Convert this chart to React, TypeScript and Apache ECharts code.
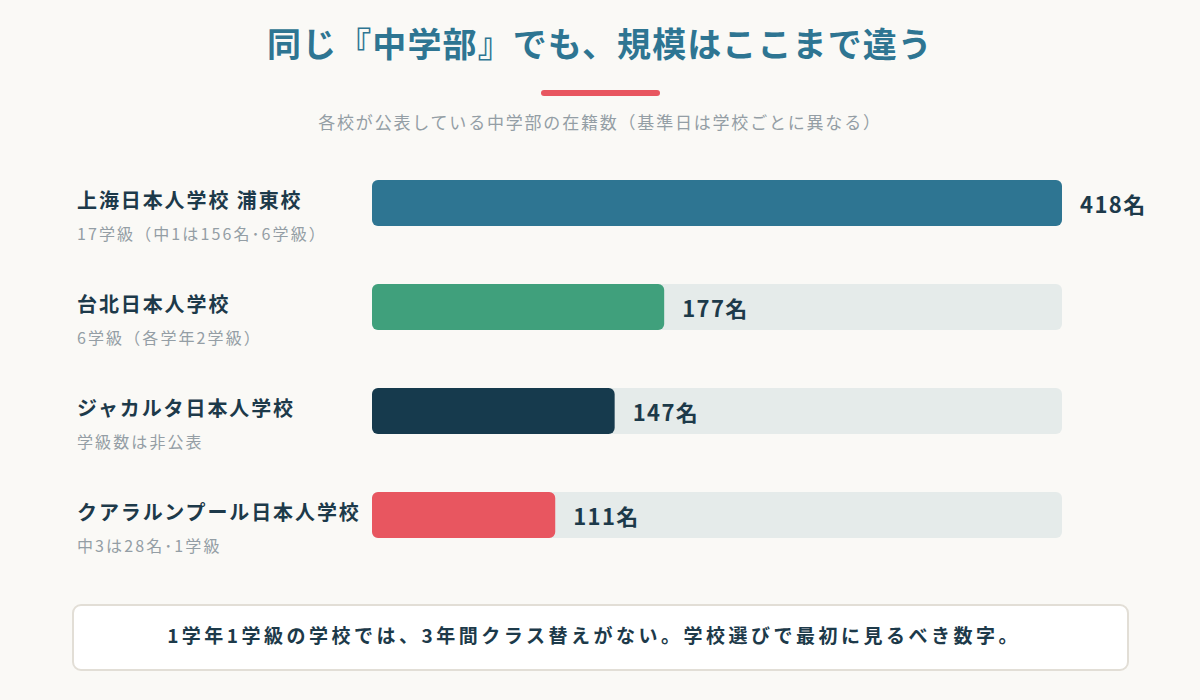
import React, { useEffect, useRef } from "react";
import * as echarts from "echarts";

const schools = ["上海日本人学校 浦東校", "台北日本人学校", "ジャカルタ日本人学校", "クアラルンプール日本人学校"];
const notes = ["17学級（中1は156名･6学級）", "6学級（各学年2学級）", "学級数は非公表", "中3は28名･1学級"];
const students = [418, 177, 147, 111];
const barColors = ["#2e7592", "#40a07c", "#163a4d", "#e85660"];

const TITLE = "同じ『中学部』でも、規模はここまで違う";
const SUBTITLE = "各校が公表している中学部の在籍数（基準日は学校ごとに異なる）";
const FOOTNOTE = "1学年1学級の学校では、3年間クラス替えがない。学校選びで最初に見るべき数字。";

const FONT = "'Noto Sans CJK JP', 'Noto Sans', sans-serif";

// letter spacing (px) by font size, applied to the rendered SVG texts
const SPACING: Record<number, number> = { 34: 1.1, 20: 1.9, 16: 2.1, 22: 1.4, 19: 3.5, 17: 1.8 };

export default function App() {
  const ref = useRef<HTMLDivElement>(null);
  useEffect(() => {
    if (!ref.current) return;
    const el = ref.current;
    const chart = echarts.init(el, null, { renderer: "svg" });
    const applySpacing = () => {
      el.querySelectorAll("text").forEach((t) => {
        const fs = Math.round(parseFloat(getComputedStyle(t).fontSize));
        const s = SPACING[fs];
        if (s) (t as SVGTextElement).style.letterSpacing = s + "px";
      });
    };
    chart.on("finished", applySpacing);
    chart.setOption({
      animation: false,
      backgroundColor: "#faf9f6",
      textStyle: { fontFamily: FONT },
      grid: { left: 372, width: 690, top: 151, height: 416 },
      xAxis: {
        type: "value",
        min: 0,
        max: 418,
        show: false,
      },
      yAxis: {
        type: "category",
        inverse: true,
        data: schools,
        axisLine: { show: false },
        axisTick: { show: false },
        splitLine: { show: false },
        axisLabel: {
          margin: 295,
          align: "left",
          padding: [30, 0, 0, 0],
          formatter: (v: string, i: number) => `{name|${v}}\n{sub|${notes[i]}}`,
          rich: {
            name: { fontSize: 20, fontWeight: "bold", color: "#1d3a4a", lineHeight: 30, fontFamily: FONT },
            sub: { fontSize: 16, color: "#949ea5", lineHeight: 38, fontFamily: FONT },
          },
        },
      },
      series: [
        {
          type: "bar",
          data: students.map((v, i) => ({ value: v, itemStyle: { color: barColors[i] } })),
          barWidth: 46,
          showBackground: true,
          backgroundStyle: { color: "#e5ebea", borderRadius: 6 },
          itemStyle: { borderRadius: 6 },
          label: {
            show: true,
            position: "right",
            distance: 18,
            formatter: "{c}名",
            fontSize: 22,
            fontWeight: "bold",
            color: "#1d3a4a",
            fontFamily: FONT,
          },
        },
      ],
      graphic: [
        {
          type: "text",
          x: 600,
          y: 42,
          style: {
            text: TITLE, fontSize: 34, fontWeight: "bold", fill: "#2e7592", fontFamily: FONT,
            textAlign: "center", textVerticalAlign: "middle",
          },
        },
        {
          type: "rect",
          shape: { x: 541, y: 90, width: 119, height: 6, r: 3 },
          style: { fill: "#e85660" },
        },
        {
          type: "text",
          x: 600,
          y: 121,
          style: {
            text: SUBTITLE, fontSize: 17, fill: "#949ea5", fontFamily: FONT,
            textAlign: "center", textVerticalAlign: "middle",
          },
        },
        {
          type: "rect",
          shape: { x: 73, y: 605, width: 1055, height: 65, r: 8 },
          style: { fill: "#ffffff", stroke: "#e2ded6", lineWidth: 2 },
        },
        {
          type: "text",
          x: 594,
          y: 634,
          style: {
            text: FOOTNOTE, fontSize: 19, fontWeight: "bold", fill: "#1d3a4a", fontFamily: FONT,
            textAlign: "center", textVerticalAlign: "middle",
          },
        },
      ],
    });
    applySpacing();
    const raf = requestAnimationFrame(applySpacing);
    return () => {
      cancelAnimationFrame(raf);
      chart.dispose();
    };
  }, []);
  return <div ref={ref} style={{ position: "fixed", left: 0, top: 0, width: 1200, height: 700 }} />;
}
